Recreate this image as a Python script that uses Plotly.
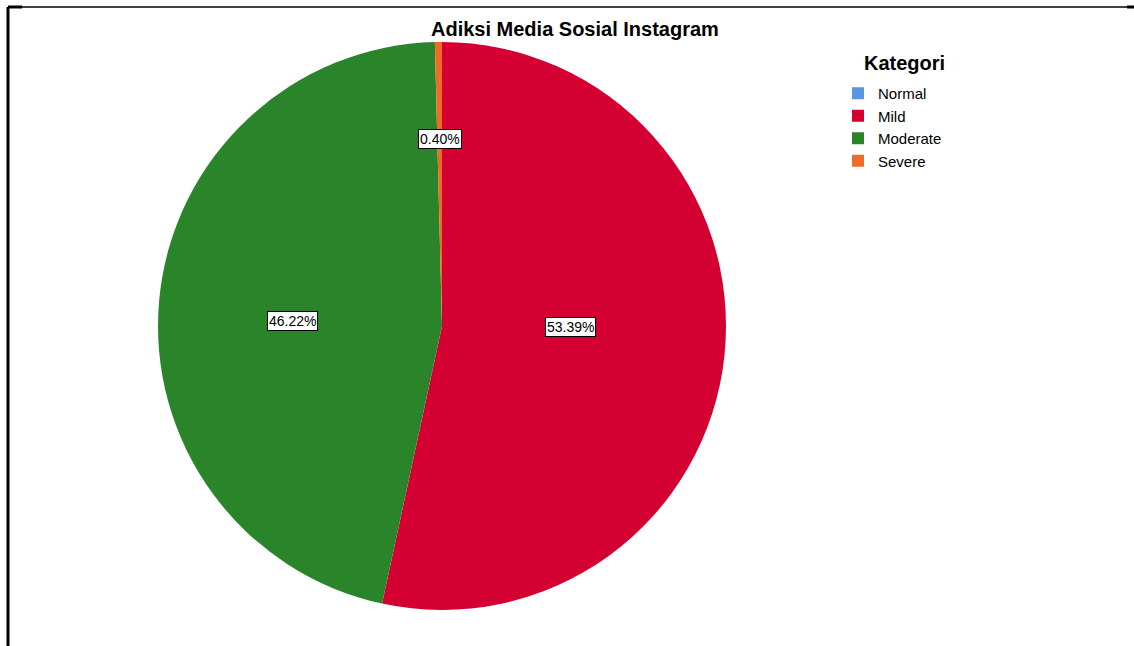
import math
import plotly.graph_objects as go

categories = ["Normal", "Mild", "Moderate", "Severe"]
percentages = [0.0, 53.39, 46.22, 0.40]
colors = ["#5A96E3", "#D50032", "#2A852A", "#F06A28"]
label_radius = [0.5, 0.45, 0.52, 0.66]
label_xshift = [0, 1, -2, 0]
label_yshift = [0, 13, -9, 0]

W, H = 1134, 646
cx, cy, R = 442, 326, 284

fig = go.Figure(go.Pie(
    labels=categories,
    values=percentages,
    sort=False,
    direction="clockwise",
    rotation=0,
    marker=dict(colors=colors, line=dict(width=0)),
    textinfo="none",
    hoverinfo="label+percent",
    domain=dict(x=[(cx - R) / W, (cx + R) / W], y=[(H - cy - R) / H, (H - cy + R) / H]),
    showlegend=True,
))

annotations = []
total = sum(percentages)
cum = 0.0
for cat, p, rf, xs, ys in zip(categories, percentages, label_radius, label_xshift, label_yshift):
    if p > 0:
        mid = (cum + p / 2) / total * 2 * math.pi
        x = cx + rf * R * math.sin(mid)
        y = cy - rf * R * math.cos(mid)
        annotations.append(dict(
            x=x / W, y=1 - y / H, xref="paper", yref="paper",
            xanchor="center", yanchor="middle",
            xshift=xs, yshift=ys,
            text=f"{p:.2f}%", showarrow=False,
            font=dict(family="Liberation Sans, Arial", size=14, color="black"),
            bgcolor="white", bordercolor="black", borderwidth=1, borderpad=1,
        ))
    cum += p

annotations.append(dict(
    x=575 / W, y=1 - 29 / H, xref="paper", yref="paper",
    text="<b>Adiksi Media Sosial Instagram</b>", showarrow=False,
    font=dict(family="Liberation Sans, Arial", size=20, color="black"),
    xanchor="center", yanchor="middle",
))
annotations.append(dict(
    x=862 / W, y=1 - 63 / H, xref="paper", yref="paper",
    text="<b>Kategori</b>", showarrow=False,
    font=dict(family="Liberation Sans, Arial", size=20, color="black"),
    xanchor="left", yanchor="middle",
))

shapes = [
    dict(type="line", xref="paper", yref="paper", x0=8 / W, x1=1127 / W,
         y0=1 - 7 / H, y1=1 - 7 / H, line=dict(color="black", width=1.5)),
    dict(type="line", xref="paper", yref="paper", x0=1127 / W, x1=1134 / W,
         y0=1 - 7 / H, y1=1 - 7 / H, line=dict(color="black", width=3)),
    dict(type="line", xref="paper", yref="paper", x0=8 / W, x1=8 / W,
         y0=1 - 7 / H, y1=0, line=dict(color="black", width=3)),
    dict(type="line", xref="paper", yref="paper", x0=8 / W, x1=22 / W,
         y0=1 - 7 / H, y1=1 - 7 / H, line=dict(color="black", width=3)),
]

fig.update_layout(
    width=W, height=H,
    margin=dict(l=0, r=0, t=0, b=0),
    paper_bgcolor="white",
    plot_bgcolor="white",
    font=dict(family="Liberation Sans, Arial", size=15, color="black"),
    legend=dict(
        x=838 / W, y=1 - 77 / H, xanchor="left", yanchor="top",
        font=dict(size=15), tracegroupgap=0, itemsizing="constant",
        bgcolor="rgba(0,0,0,0)",
    ),
    annotations=annotations,
    shapes=shapes,
)

fig.write_html("out.html")
